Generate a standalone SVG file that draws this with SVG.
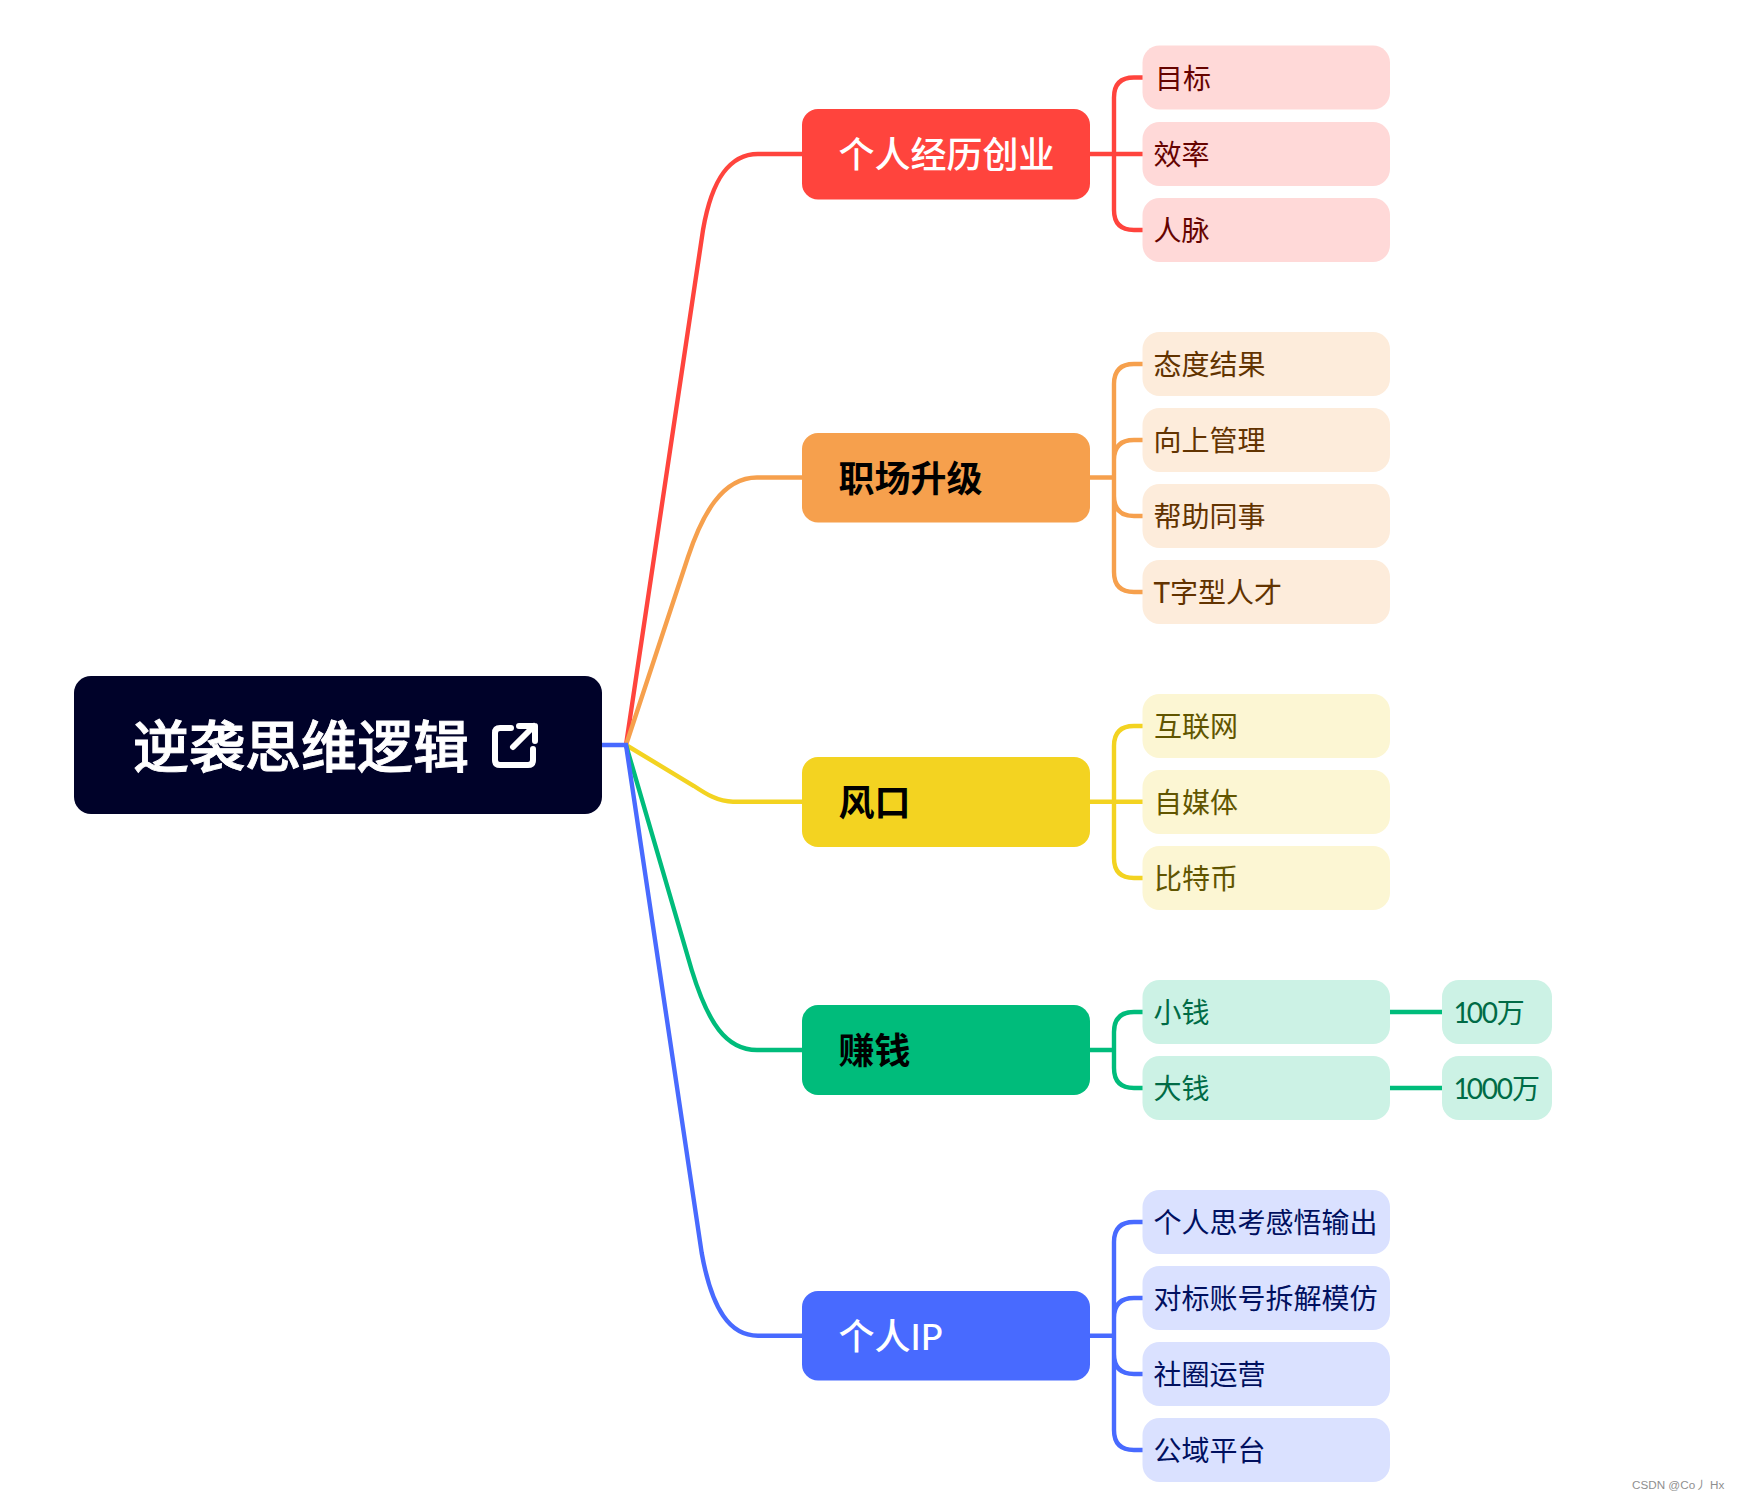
<svg xmlns="http://www.w3.org/2000/svg" width="1738" height="1500" viewBox="0 0 1738 1500">
<style>
text{font-family:"Lato","Noto Sans CJK SC",sans-serif;dominant-baseline:central}
.c{fill:none;stroke-width:4.400}
.l1{font-size:36px;font-weight:500}
.b{font-weight:700}
.l2{font-size:28px}
.n1{letter-spacing:-3px}
.n0{letter-spacing:-1.200px}
.red{stroke:#FF443D}.org{stroke:#F6A04D}.yel{stroke:#F3D321}.grn{stroke:#00BC7B}.blu{stroke:#486AFF}
.tr{fill:#660300}.to{fill:#623300}.ty{fill:#615500}.tg{fill:#006B46}.tb{fill:#00105F}
.fr{fill:#FFD9D8}.fo{fill:#FDECDB}.fy{fill:#FCF6D3}.fg{fill:#CCF2E5}.fb{fill:#DAE1FF}
</style>
<rect width="1738" height="1500" fill="#fff"/>
<g id="connectors">
<path class="c red" d="M626 745L703 230C712 178 730 154 758 154H802M1090 154H1143M1143 77.500H1134Q1114 77.500 1114 97.500V210Q1114 230 1134 230H1143"/>
<path class="c org" d="M626 745L688 557C702 515 722 477.500 757 477.500H802M1090 477.500H1114M1143 364H1134Q1114 364 1114 384V572Q1114 592 1134 592H1143M1114 460Q1114 440 1134 440H1143M1114 496Q1114 516 1134 516H1143"/>
<path class="c yel" d="M626 745L694 786C706 794 718 801.700 733 801.700H802M1090 801.700H1143M1143 726H1134Q1114 726 1114 746V858Q1114 878 1134 878H1143"/>
<path class="c grn" d="M626 745L691.700 970C708 1023 726 1050 757 1050H802M1090 1050H1114M1143 1012H1134Q1114 1012 1114 1032V1068Q1114 1088 1134 1088H1143M1390 1012H1443M1390 1088H1443"/>
<path class="c blu" d="M602 745H626L701.700 1253C712 1310 730 1335.700 758 1335.700H802M1090 1335.700H1114M1143 1222H1134Q1114 1222 1114 1242V1430Q1114 1450 1134 1450H1143M1114 1318Q1114 1298 1134 1298H1143M1114 1354Q1114 1374 1134 1374H1143"/>
</g>
<g id="root">
<rect x="74" y="676" width="528" height="138" rx="17" fill="#000229"/>
<text x="133" y="745" font-size="56" font-weight="500" fill="#fff" stroke="#fff" stroke-width="0.900">逆袭思维逻辑</text>
<path d="M511 728H500Q495 728 495 733V760Q495 765 500 765H528Q533 765 533 760V749M513 747L534 726M519 726H535V741" fill="none" stroke="#fff" stroke-width="6" stroke-linecap="round" stroke-linejoin="round"/>
</g>
<g id="n1"><rect x="802" y="109" width="288" height="90.500" rx="16" fill="#FF443D"/><text class="l1" x="838.500" y="154" fill="#fff">个人经历创业</text></g>
<g id="n1a"><rect class="fr" x="1142.500" y="45.500" width="247.500" height="64" rx="17"/><text class="l2 tr" x="1155" y="77.500">目标</text></g>
<g id="n1b"><rect class="fr" x="1142.500" y="122" width="247.500" height="64" rx="17"/><text class="l2 tr" x="1153.500" y="154">效率</text></g>
<g id="n1c"><rect class="fr" x="1142.500" y="198" width="247.500" height="64" rx="17"/><text class="l2 tr" x="1153.500" y="230">人脉</text></g>
<g id="n2"><rect x="802" y="433" width="288" height="89.500" rx="16" fill="#F6A04D"/><text class="l1 b" x="838.500" y="477.500" fill="#000">职场升级</text></g>
<g id="n2a"><rect class="fo" x="1142.500" y="332" width="247.500" height="64" rx="17"/><text class="l2 to" x="1153.500" y="364">态度结果</text></g>
<g id="n2b"><rect class="fo" x="1142.500" y="408" width="247.500" height="64" rx="17"/><text class="l2 to" x="1153.500" y="440">向上管理</text></g>
<g id="n2c"><rect class="fo" x="1142.500" y="484" width="247.500" height="64" rx="17"/><text class="l2 to" x="1153.500" y="516">帮助同事</text></g>
<g id="n2d"><rect class="fo" x="1142.500" y="560" width="247.500" height="64" rx="17"/><text class="l2 to" x="1153.500" y="592">T字型人才</text></g>
<g id="n3"><rect x="802" y="757" width="288" height="90" rx="16" fill="#F3D321"/><text class="l1 b" x="838.500" y="802" fill="#000">风口</text></g>
<g id="n3a"><rect class="fy" x="1142.500" y="694" width="247.500" height="64" rx="17"/><text class="l2 ty" x="1154" y="726">互联网</text></g>
<g id="n3b"><rect class="fy" x="1142.500" y="770" width="247.500" height="64" rx="17"/><text class="l2 ty" x="1154" y="802">自媒体</text></g>
<g id="n3c"><rect class="fy" x="1142.500" y="846" width="247.500" height="64" rx="17"/><text class="l2 ty" x="1154" y="878">比特币</text></g>
<g id="n4"><rect x="802" y="1005" width="288" height="90" rx="16" fill="#00BC7B"/><text class="l1 b" x="838.500" y="1050" fill="#000">赚钱</text></g>
<g id="n4a"><rect class="fg" x="1142.500" y="980" width="247.500" height="64" rx="17"/><text class="l2 tg" x="1153.500" y="1012">小钱</text></g>
<g id="n4b"><rect class="fg" x="1142.500" y="1056" width="247.500" height="64" rx="17"/><text class="l2 tg" x="1153.500" y="1088">大钱</text></g>
<g id="n4a1"><rect class="fg" x="1442" y="980" width="110" height="64" rx="17"/><text class="l2 tg" x="1453.500" y="1012"><tspan class="n1">1</tspan><tspan class="n0">00</tspan>万</text></g>
<g id="n4b1"><rect class="fg" x="1442" y="1056" width="110" height="64" rx="17"/><text class="l2 tg" x="1453.500" y="1088"><tspan class="n1">1</tspan><tspan class="n0">000</tspan>万</text></g>
<g id="n5"><rect x="802" y="1291" width="288" height="89.500" rx="16" fill="#486AFF"/><text class="l1" x="838.500" y="1335.500" fill="#fff">个人IP</text></g>
<g id="n5a"><rect class="fb" x="1142.500" y="1190" width="247.500" height="64" rx="17"/><text class="l2 tb" x="1153.500" y="1222">个人思考感悟输出</text></g>
<g id="n5b"><rect class="fb" x="1142.500" y="1266" width="247.500" height="64" rx="17"/><text class="l2 tb" x="1153.500" y="1298">对标账号拆解模仿</text></g>
<g id="n5c"><rect class="fb" x="1142.500" y="1342" width="247.500" height="64" rx="17"/><text class="l2 tb" x="1153.500" y="1374">社圈运营</text></g>
<g id="n5d"><rect class="fb" x="1142.500" y="1418" width="247.500" height="64" rx="17"/><text class="l2 tb" x="1153.500" y="1450">公域平台</text></g>
<text x="1632" y="1484" font-size="11.700" fill="#8f8f8f" style="font-family:'Liberation Sans','Noto Sans CJK SC',sans-serif">CSDN @Co丿 Hx</text>
</svg>
